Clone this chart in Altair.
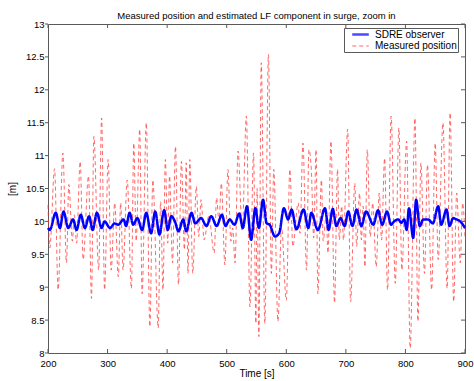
import altair as alt
import pandas as pd

# Measured surge position (red dashed) – peaks/troughs in time order
meas_t = [200, 203, 211, 217, 225, 231, 235, 241, 244, 248, 254, 259, 268, 273, 277, 285,
          290, 295, 301, 306, 312, 318, 322, 326, 333, 340, 344, 348, 354, 358, 365, 371,
          376, 385, 389, 393, 397, 401, 404, 409, 414, 419, 424, 429, 432, 435, 438, 443,
          449, 453, 457, 462, 470, 479, 483, 487, 491, 497, 502, 507, 510, 514, 519, 526,
          533, 539, 545, 549, 551, 554, 558, 564, 570, 575, 579, 586, 592, 600, 606, 611,
          620, 623, 628, 634, 638, 642, 646, 650, 653, 659, 662, 667, 670, 675, 681, 686,
          689, 693, 696, 703, 708, 715, 718, 723, 726, 729, 732, 736, 741, 745, 751, 756,
          760, 765, 770, 776, 783, 789, 794, 802, 808, 816, 821, 826, 832, 837, 844, 850,
          855, 863, 870, 875, 881, 886, 892, 896, 900]
meas_v = [10.25, 9.6, 10.8, 8.96, 11.04, 9.37, 10.56, 9.7, 10.1, 9.67, 10.91, 9.42, 10.69, 8.83, 11.29, 9.26,
          11.57, 8.96, 10.94, 9.26, 10.28, 9.16, 10.28, 9.26, 10.63, 8.98, 11.19, 9.7, 11.4, 8.9, 11.5, 8.4,
          10.63, 8.38, 10.3, 8.96, 10.94, 9.67, 10.69, 9.37, 11.14, 9.04, 10.91, 9.57, 10.89, 9.21, 10.94, 9.21,
          10.53, 9.77, 10.33, 9.72, 10.08, 9.52, 10.36, 10.0, 10.58, 9.34, 10.79, 9.7, 9.9, 9.37, 11.07, 9.85,
          11.6, 8.7, 11.04, 8.45, 10.5, 8.25, 12.41, 8.45, 12.54, 9.21, 10.79, 8.48, 9.92, 8.8, 10.79, 9.62,
          10.28, 9.82, 11.19, 9.26, 11.09, 10.79, 9.75, 11.09, 8.9, 10.63, 9.7, 10.1, 9.52, 11.22, 8.76, 10.79,
          9.72, 10.23, 9.72, 11.4, 8.78, 10.58, 9.62, 10.43, 9.72, 10.23, 9.31, 11.09, 9.77, 10.28, 9.31, 10.43,
          9.72, 10.96, 8.96, 11.6, 9.06, 11.42, 9.26, 11.22, 8.07, 11.57, 8.48, 10.89, 9.21, 10.86, 8.96, 11.19,
          9.42, 11.5, 8.98, 11.65, 8.78, 10.43, 9.37, 10.28, 9.77]

# SDRE observer estimate of the LF component (blue)
sdre_t = [200, 203, 213, 220, 226, 234, 242, 248, 255, 262, 269, 275, 282, 290, 295, 304,
          312, 318, 327, 331, 337, 343, 350, 358, 365, 373, 380, 387, 395, 401, 407, 413,
          419, 427, 432, 441, 447, 457, 466, 474, 483, 492, 498, 505, 513, 521, 527, 534,
          541, 548, 554, 561, 567, 572, 581, 588, 596, 603, 609, 617, 629, 637, 642, 653,
          665, 671, 678, 684, 691, 698, 704, 711, 718, 726, 734, 746, 754, 761, 769, 776,
          781, 788, 793, 798, 802, 806, 813, 818, 824, 830, 838, 846, 855, 860, 869, 874,
          880, 886, 892, 900]
sdre_v = [9.9, 9.87, 10.13, 9.9, 10.15, 9.9, 10.03, 9.87, 10.1, 9.9, 10.08, 9.87, 10.13, 9.9, 10.0, 9.9,
          9.97, 9.95, 10.03, 9.93, 10.13, 9.95, 10.05, 9.87, 10.13, 9.82, 10.15, 9.8, 10.17, 9.87, 10.08, 10.0,
          9.85, 10.03, 9.85, 10.13, 9.97, 10.05, 9.93, 10.08, 9.93, 10.1, 9.93, 10.03, 9.95, 10.12, 9.9, 10.23,
          9.72, 10.2, 9.9, 10.33, 9.97, 9.95, 9.77, 9.82, 10.2, 10.03, 10.18, 9.88, 10.18, 9.9, 10.13, 9.87,
          10.2, 9.87, 10.19, 9.93, 10.05, 9.93, 10.15, 9.93, 10.18, 9.93, 10.15, 9.95, 10.17, 9.95, 10.15, 9.95,
          10.0, 10.03, 9.98, 10.03, 9.87, 10.2, 9.75, 10.33, 9.93, 10.03, 10.03, 9.97, 10.23, 9.95, 10.18, 9.93,
          10.05, 10.03, 10.0, 9.9]

x_ticks = [200, 300, 400, 500, 600, 700, 800, 900]
y_ticks = [8, 8.5, 9, 9.5, 10, 10.5, 11, 11.5, 12, 12.5, 13]
series_names = ["SDRE observer", "Measured position"]

W, H = 417, 329
FONT = "Liberation Sans"
FRAME = "#5a5a5a"

meas_df = pd.DataFrame({"t": meas_t, "v": meas_v, "series": series_names[1]})
sdre_df = pd.DataFrame({"t": sdre_t, "v": sdre_v, "series": series_names[0]})
xt_df = pd.DataFrame({"t": x_ticks})
yt_df = pd.DataFrame({"v": y_ticks})

xscale = alt.Scale(domain=[200, 900], nice=False, zero=False)
yscale = alt.Scale(domain=[8, 13], nice=False, zero=False)

x_axis = alt.Axis(values=x_ticks, title="Time [s]", ticks=False, domain=False, grid=False,
                  labelPadding=5, titlePadding=1, format="d", labelFlush=False, labelOverlap=False)
y_axis = alt.Axis(values=y_ticks, title="[m]", ticks=False, domain=False, grid=False,
                  labelPadding=4, titlePadding=8, format=".1~f", labelFlush=False, labelOverlap=False)
X = alt.X("t:Q", scale=xscale, axis=x_axis)
Y = alt.Y("v:Q", scale=yscale, axis=y_axis)

color = alt.Color("series:N", scale=alt.Scale(domain=series_names, range=["#0000ff", "#ff2a2a"]),
                  legend=alt.Legend(title=None, orient="none", legendX=296, legendY=4,
                                    strokeColor=FRAME, fillColor="white", padding=1,
                                    symbolType="M0.43,0H4.58", symbolSize=64, labelFontSize=10,
                                    labelFont=FONT, labelColor="black", rowPadding=1,
                                    labelOffset=19, cornerRadius=0,
                                    labelExpr="datum.label + '   '"))
dash = alt.StrokeDash("series:N", scale=alt.Scale(domain=series_names, range=[[1, 0], [4, 3]]), legend=None)
width = alt.StrokeWidth("series:N", scale=alt.Scale(domain=series_names, range=[2.5, 1]), legend=None)

measured = alt.Chart(meas_df).mark_line(interpolate="monotone", opacity=0.7).encode(
    x=X, y=Y, color=color, strokeDash=dash, strokeWidth=width,
)
observer = alt.Chart(sdre_df).mark_line(interpolate="monotone").encode(
    x=X, y=Y, color=color, strokeDash=dash, strokeWidth=width,
)

# tick marks: inward on bottom, top and right, short outward marks on the left
tick_style = dict(color=FRAME, strokeWidth=1)
ticks_bottom = alt.Chart(xt_df).mark_rule(**tick_style).encode(x=X, y=alt.value(H), y2=alt.value(H - 4))
ticks_top = alt.Chart(xt_df).mark_rule(**tick_style).encode(x=X, y=alt.value(0), y2=alt.value(4))
ticks_left = alt.Chart(yt_df).mark_rule(**tick_style).encode(y=Y, x=alt.value(-3), x2=alt.value(0))
ticks_right = alt.Chart(yt_df).mark_rule(**tick_style).encode(y=Y, x=alt.value(W), x2=alt.value(W - 4))

chart = alt.layer(measured, observer, ticks_bottom, ticks_top, ticks_left, ticks_right).properties(
    width=W, height=H,
    background="white",
    title=alt.TitleParams("Measured position and estimated LF component in surge, zoom in",
                          fontSize=9.5, font=FONT, fontWeight="normal", color="black", offset=-1),
    autosize=alt.AutoSizeParams(type="none"),
    padding={"left": 48, "top": 24, "right": 9, "bottom": 28},
).configure_view(stroke=FRAME, strokeWidth=1).configure_axis(
    labelFont=FONT, titleFont=FONT, labelFontSize=9.5, titleFontSize=10,
    labelColor="black", titleColor="black", titleFontWeight="normal",
)

chart.save("out.html", embed_options={"renderer": "svg", "actions": False})
